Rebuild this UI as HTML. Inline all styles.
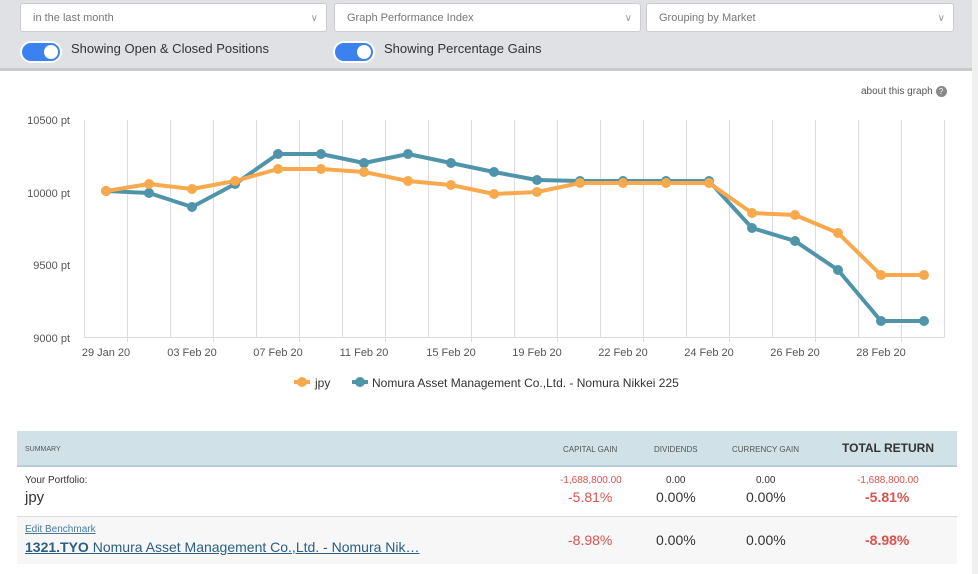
<!DOCTYPE html><html><head><style>
body{margin:0;width:978px;height:574px;background:#fff;font-family:"Liberation Sans",sans-serif;position:relative;overflow:hidden}
.top{position:absolute;left:0;top:0;width:972px;height:68px;background:#dfe1e5;border-bottom:3px solid #c8cacd}
.rb{position:absolute;left:972px;top:0;width:6px;height:574px;background:#f0f0f0}
.sel{position:absolute;top:3px;height:29px;background:#fff;border:1px solid #ccc;border-radius:3px;font-size:11px;color:#777;line-height:29px;padding-left:12px;box-sizing:border-box}
.sel span{position:absolute;right:8px;color:#999;font-size:10px}
.tg{position:absolute;top:41px;width:42px;height:22px;border-radius:11px;background:#3b82f0;border:2px solid #fff;box-sizing:border-box}
.tg:after{content:"";position:absolute;right:2px;top:2px;width:14px;height:14px;border-radius:50%;background:#fff}
.lb{position:absolute;top:41px;font-size:13px;color:#333}
.t{position:absolute;font-size:11px;color:#555}
.red{color:#d9534f}
</style></head><body>
<div class="top"></div><div class="rb"></div>
<div class="sel" style="left:20px;width:307px">in the last month<span>∨</span></div>
<div class="sel" style="left:334px;width:307px">Graph Performance Index<span>∨</span></div>
<div class="sel" style="left:646px;width:308px">Grouping by Market<span>∨</span></div>
<div class="tg" style="left:20px"></div><div class="lb" style="left:71px">Showing Open &amp; Closed Positions</div>
<div class="tg" style="left:333px"></div><div class="lb" style="left:384px">Showing Percentage Gains</div>
<div class="t" style="left:861px;top:86px;font-size:10px">about this graph <span style="display:inline-block;width:11px;height:11px;border-radius:50%;background:#888;color:#fff;font-size:8px;text-align:center;line-height:11px">?</span></div>
<svg style="position:absolute;left:0;top:0" width="978" height="420">
<g stroke="#dcdde0" stroke-width="1">
<line x1="84.5" y1="120" x2="84.5" y2="337"/><line x1="127.5" y1="120" x2="127.5" y2="342"/><line x1="170.5" y1="120" x2="170.5" y2="337"/><line x1="213.5" y1="120" x2="213.5" y2="342"/><line x1="256.5" y1="120" x2="256.5" y2="337"/><line x1="299.5" y1="120" x2="299.5" y2="342"/><line x1="342.5" y1="120" x2="342.5" y2="337"/><line x1="385.5" y1="120" x2="385.5" y2="342"/><line x1="428.5" y1="120" x2="428.5" y2="337"/><line x1="471.5" y1="120" x2="471.5" y2="342"/><line x1="514.5" y1="120" x2="514.5" y2="337"/><line x1="557.5" y1="120" x2="557.5" y2="342"/><line x1="600.5" y1="120" x2="600.5" y2="337"/><line x1="643.5" y1="120" x2="643.5" y2="342"/><line x1="686.5" y1="120" x2="686.5" y2="337"/><line x1="729.5" y1="120" x2="729.5" y2="342"/><line x1="772.5" y1="120" x2="772.5" y2="337"/><line x1="815.5" y1="120" x2="815.5" y2="342"/><line x1="858.5" y1="120" x2="858.5" y2="337"/><line x1="901.5" y1="120" x2="901.5" y2="342"/><line x1="944.5" y1="120" x2="944.5" y2="337"/>
<line x1="84" y1="337.5" x2="945" y2="337.5"/>
</g>
<g font-size="11" fill="#555" text-anchor="end"><text x="70" y="124">10500 pt</text><text x="70" y="197">10000 pt</text><text x="70" y="269">9500 pt</text><text x="70" y="342">9000 pt</text></g>
<g font-size="11" fill="#555" text-anchor="middle"><text x="106" y="356">29 Jan 20</text><text x="192" y="356">03 Feb 20</text><text x="278" y="356">07 Feb 20</text><text x="364" y="356">11 Feb 20</text><text x="451" y="356">15 Feb 20</text><text x="537" y="356">19 Feb 20</text><text x="623" y="356">22 Feb 20</text><text x="709" y="356">24 Feb 20</text><text x="795" y="356">26 Feb 20</text><text x="881" y="356">28 Feb 20</text></g>
<g fill="none" stroke-width="4" stroke-linejoin="round">
<polyline stroke="#4f94a8" points="106,191 149,193 192,207 235,184 278,154 321,154 364,163 408,154 451,163 494,172 537,180 580,181 623,181 666,181 709,181 752,228 795,241 838,270 881,321 924,321"/>
<polyline stroke="#f8a94d" points="106,191 149,184 192,189 235,181 278,169 321,169 364,172 408,181 451,185 494,194 537,192 580,183 623,183 666,183 709,183 752,213 795,215 838,233 881,275 924,275"/>
</g>
<g fill="#4f94a8"><circle cx="106" cy="191" r="5"/><circle cx="149" cy="193" r="5"/><circle cx="192" cy="207" r="5"/><circle cx="235" cy="184" r="5"/><circle cx="278" cy="154" r="5"/><circle cx="321" cy="154" r="5"/><circle cx="364" cy="163" r="5"/><circle cx="408" cy="154" r="5"/><circle cx="451" cy="163" r="5"/><circle cx="494" cy="172" r="5"/><circle cx="537" cy="180" r="5"/><circle cx="580" cy="181" r="5"/><circle cx="623" cy="181" r="5"/><circle cx="666" cy="181" r="5"/><circle cx="709" cy="181" r="5"/><circle cx="752" cy="228" r="5"/><circle cx="795" cy="241" r="5"/><circle cx="838" cy="270" r="5"/><circle cx="881" cy="321" r="5"/><circle cx="924" cy="321" r="5"/></g>
<g fill="#f8a94d"><circle cx="106" cy="191" r="5"/><circle cx="149" cy="184" r="5"/><circle cx="192" cy="189" r="5"/><circle cx="235" cy="181" r="5"/><circle cx="278" cy="169" r="5"/><circle cx="321" cy="169" r="5"/><circle cx="364" cy="172" r="5"/><circle cx="408" cy="181" r="5"/><circle cx="451" cy="185" r="5"/><circle cx="494" cy="194" r="5"/><circle cx="537" cy="192" r="5"/><circle cx="580" cy="183" r="5"/><circle cx="623" cy="183" r="5"/><circle cx="666" cy="183" r="5"/><circle cx="709" cy="183" r="5"/><circle cx="752" cy="213" r="5"/><circle cx="795" cy="215" r="5"/><circle cx="838" cy="233" r="5"/><circle cx="881" cy="275" r="5"/><circle cx="924" cy="275" r="5"/></g>
<line x1="294" y1="382" x2="310" y2="382" stroke="#f8a94d" stroke-width="4"/><circle cx="302" cy="382" r="5" fill="#f8a94d"/>
<text x="315" y="387" font-size="12" fill="#333">jpy</text>
<line x1="352" y1="382" x2="368" y2="382" stroke="#4f94a8" stroke-width="4"/><circle cx="360" cy="382" r="5" fill="#4f94a8"/>
<text x="372" y="387" font-size="12" fill="#333">Nomura Asset Management Co.,Ltd. - Nomura Nikkei 225</text>
</svg>
<div style="position:absolute;left:17px;top:431px;width:940px;height:34px;background:#d0e2e8;border-bottom:2px solid #b5cdd5"></div>
<div style="position:absolute;left:17px;top:516px;width:940px;height:47px;background:#f7f7f7;border-top:1px solid #ddd"></div>
<div class="t" style="left:25px;top:446px;font-size:7px">SUMMARY</div>
<div class="t" style="left:563px;top:445px;font-size:8px">CAPITAL GAIN</div>
<div class="t" style="left:654px;top:445px;font-size:8px">DIVIDENDS</div>
<div class="t" style="left:732px;top:445px;font-size:8px">CURRENCY GAIN</div>
<div class="t" style="left:842px;top:441px;font-size:12px;color:#333;font-weight:bold">TOTAL RETURN</div>
<div class="t" style="left:25px;top:475px;font-size:10px;color:#333">Your Portfolio:</div>
<div class="t" style="left:25px;top:489px;font-size:15px;color:#333">jpy</div>
<div class="t red" style="left:560px;top:475px;font-size:10px">-1,688,800.00</div>
<div class="t red" style="left:568px;top:489px;font-size:14px">-5.81%</div>
<div class="t" style="left:666px;top:475px;font-size:10px;color:#333">0.00</div>
<div class="t" style="left:656px;top:489px;font-size:14px;color:#333">0.00%</div>
<div class="t" style="left:756px;top:475px;font-size:10px;color:#333">0.00</div>
<div class="t" style="left:746px;top:489px;font-size:14px;color:#333">0.00%</div>
<div class="t red" style="left:857px;top:475px;font-size:10px">-1,688,800.00</div>
<div class="t red" style="left:865px;top:489px;font-size:14px;font-weight:bold">-5.81%</div>
<div class="t" style="left:25px;top:524px;font-size:10px;color:#4a7a9a;text-decoration:underline">Edit Benchmark</div>
<div class="t" style="left:25px;top:539px;font-size:14px;color:#2b5f82;text-decoration:underline;white-space:nowrap"><b>1321.TYO</b> Nomura Asset Management Co.,Ltd. - Nomura Nik…</div>
<div class="t red" style="left:568px;top:532px;font-size:14px">-8.98%</div>
<div class="t" style="left:656px;top:532px;font-size:14px;color:#333">0.00%</div>
<div class="t" style="left:746px;top:532px;font-size:14px;color:#333">0.00%</div>
<div class="t red" style="left:865px;top:532px;font-size:14px;font-weight:bold">-8.98%</div>
</body></html>
